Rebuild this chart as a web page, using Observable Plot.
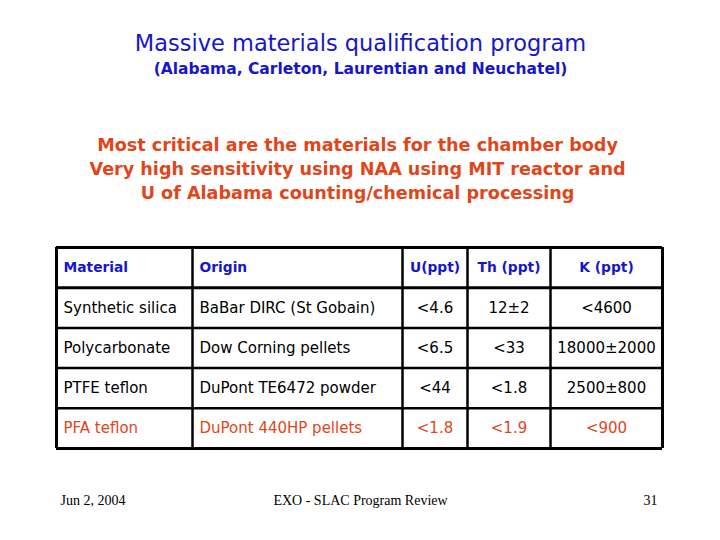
<!DOCTYPE html>
<html>
<head>
<meta charset="utf-8">
<script src="https://cdn.jsdelivr.net/npm/d3@7"></script>
<script src="https://cdn.jsdelivr.net/npm/@observablehq/plot@0.6"></script>
<style>
  html, body { margin: 0; padding: 0; background: #ffffff; }
  #chart svg { display: block; }
</style>
</head>
<body>
<div id="chart"></div>
<script>
// ---- data ----
const titleText = "Massive materials qualification program";
const subtitleText = "(Alabama, Carleton, Laurentian and Neuchatel)";
const noteLines = [
  "Most critical are the materials for the chamber body",
  "Very high sensitivity using NAA using MIT reactor and",
  "U of Alabama counting/chemical processing"
];
const headers = ["Material", "Origin", "U(ppt)", "Th (ppt)", "K (ppt)"];
const materials = ["Synthetic silica", "Polycarbonate", "PTFE teflon", "PFA teflon"];
const origins = ["BaBar DIRC (St Gobain)", "Dow Corning pellets", "DuPont TE6472 powder", "DuPont 440HP pellets"];
const uValues = ["<4.6", "<6.5", "<44", "<1.8"];
const thValues = ["12±2", "<33", "<1.8", "<1.9"];
const kValues = ["<4600", "18000±2000", "2500±800", "<900"];
const highlightedMaterials = ["PFA teflon"];
const footerLeft = "Jun 2, 2004";
const footerCenter = "EXO - SLAC Program Review";
const footerRight = "31";

// ---- layout / style ----
const W = 720, H = 540;
const colEdges = [56, 192, 402, 467, 550, 662];
const tableTop = 247, tableBottom = 448;
const BLUE = "#1616cc";
const RED = "#e2451a";
const BLACK = "#000000";
const comic = "'DejaVu Sans', sans-serif";
const serif = "'Liberation Serif', 'Times New Roman', serif";

const columns = [materials, origins, uValues, thValues, kValues];
const nRows = materials.length + 1;

const headerCells = headers.map((h, c) => ({row: 0, col: c, text: h}));
const bodyCells = [];
materials.forEach((m, r) => {
  columns.forEach((vals, c) => {
    bodyCells.push({row: r + 1, col: c, text: vals[r], hi: highlightedMaterials.includes(m)});
  });
});

const cellX = d => d.col < 2 ? colEdges[d.col] + 7 : (colEdges[d.col] + colEdges[d.col + 1]) / 2;

const rowLines = d3.range(nRows + 1);
const thickRows = [0, 1, nRows];

function cellTextMarks(cells, opts) {
  return [
    Plot.text(cells.filter(d => d.col < 2), {x: cellX, y: d => d.row + 0.5, text: "text", textAnchor: "start", ...opts}),
    Plot.text(cells.filter(d => d.col >= 2), {x: cellX, y: d => d.row + 0.5, text: "text", textAnchor: "middle", ...opts})
  ];
}

const noteMarks = noteLines.map((line, i) =>
  Plot.text([line], {frameAnchor: "top", dx: -3, dy: 145 + 24 * i, text: d => d, fill: RED, fontSize: 17.6, fontWeight: "bold", fontFamily: comic, lineAnchor: "middle"})
);

const chart = Plot.plot({
  width: W,
  height: H,
  margin: 0,
  style: {background: "#ffffff", overflow: "visible"},
  x: {domain: [0, W], range: [0, W], axis: null},
  y: {domain: [0, nRows], range: [tableTop, tableBottom], axis: null},
  color: {type: "identity"},
  marks: [
    // titles
    Plot.text([titleText], {frameAnchor: "top", dy: 43, text: d => d, fill: BLUE, fontSize: 22.5, fontFamily: comic, lineAnchor: "middle"}),
    Plot.text([subtitleText], {frameAnchor: "top", dy: 69, text: d => d, fill: BLUE, fontSize: 15.5, fontWeight: "bold", fontFamily: comic, lineAnchor: "middle"}),
    ...noteMarks,
    // grid lines
    Plot.ruleY(rowLines.filter(r => !thickRows.includes(r)), {x1: colEdges[0], x2: colEdges[colEdges.length - 1], stroke: BLACK, strokeWidth: 2.5}),
    Plot.ruleY(thickRows, {x1: colEdges[0], x2: colEdges[colEdges.length - 1], stroke: BLACK, strokeWidth: 3}),
    Plot.ruleX(colEdges.slice(1, -1), {y1: 0, y2: nRows, stroke: BLACK, strokeWidth: 2.5}),
    Plot.ruleX([colEdges[0], colEdges[colEdges.length - 1]], {y1: 0, y2: nRows, stroke: BLACK, strokeWidth: 3}),
    // cell texts
    ...cellTextMarks(headerCells, {fill: BLUE, fontSize: 13.8, fontWeight: "bold", fontFamily: comic}),
    ...cellTextMarks(bodyCells, {fill: d => d.hi ? RED : BLACK, fontSize: 15, fontFamily: comic}),
    // footer
    Plot.text([footerLeft], {frameAnchor: "top-left", dx: 60, dy: 500, text: d => d, fill: BLACK, fontSize: 14, fontFamily: serif, textAnchor: "start", lineAnchor: "middle"}),
    Plot.text([footerCenter], {frameAnchor: "top", dy: 500, text: d => d, fill: BLACK, fontSize: 14, fontFamily: serif, lineAnchor: "middle"}),
    Plot.text([footerRight], {frameAnchor: "top-right", dx: -63, dy: 500, text: d => d, fill: BLACK, fontSize: 14, fontFamily: serif, textAnchor: "end", lineAnchor: "middle"})
  ]
});

document.getElementById("chart").appendChild(chart);
</script>
</body>
</html>
